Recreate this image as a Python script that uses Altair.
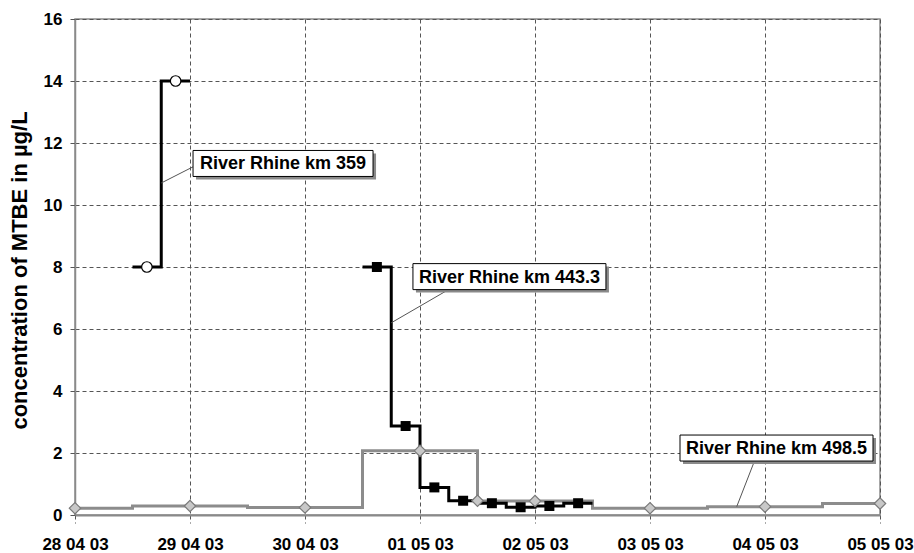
import altair as alt
import pandas as pd

# River Rhine km 359: 6-hour composite samples (centre time, µg/L)
km359_time = ["2003-04-28T15:00", "2003-04-28T21:00"]
km359_value = [8.0, 14.0]

# River Rhine km 443.3: 6-hour composite samples
km443_time = ["2003-04-30T15:00", "2003-04-30T21:00", "2003-05-01T03:00", "2003-05-01T09:00",
              "2003-05-01T15:00", "2003-05-01T21:00", "2003-05-02T03:00", "2003-05-02T09:00"]
km443_value = [8.0, 2.87, 0.89, 0.46, 0.38, 0.25, 0.29, 0.38]

# River Rhine km 498.5: 24-hour composite samples
km498_time = ["2003-04-28T00:00", "2003-04-29T00:00", "2003-04-30T00:00", "2003-05-01T00:00",
              "2003-05-02T00:00", "2003-05-03T00:00", "2003-05-04T00:00", "2003-05-05T00:00"]
km498_value = [0.22, 0.29, 0.24, 2.07, 0.45, 0.22, 0.27, 0.37]
# additional single sample at km 498.5
km498_extra_time = ["2003-05-01T12:00"]
km498_extra_value = [0.46]

# callout boxes: text, centre (time, value), box width in px
label_text = ["River Rhine km 359", "River Rhine km 443.3", "River Rhine km 498.5"]
label_time = ["2003-04-29T19:25", "2003-05-01T18:40", "2003-05-04T02:24"]
label_value = [11.34, 7.69, 2.16]
label_width = [180, 193, 193]
# leader lines from box to curve
leader_from_time = ["2003-04-29T00:37", "2003-05-01T05:50", "2003-05-03T21:42"]
leader_from_value = [11.23, 7.26, 1.70]
leader_to_time = ["2003-04-28T18:00", "2003-04-30T18:00", "2003-05-03T18:06"]
leader_to_value = [10.71, 6.2, 0.27]

day_ticks = [(4, 28), (4, 29), (4, 30), (5, 1), (5, 2), (5, 3), (5, 4), (5, 5)]
y_ticks = [0, 2, 4, 6, 8, 10, 12, 14, 16]

FONT = "Liberation Sans"


def composite_steps(times, values, hours):
    """Each composite sample is drawn as a flat segment over its sampling period."""
    half = pd.Timedelta(hours=hours / 2)
    rows = []
    for i, (t, v) in enumerate(zip(times, values)):
        c = pd.Timestamp(t)
        rows.append({"t": c - half, "v": v, "o": 2 * i})
        rows.append({"t": c + half, "v": v, "o": 2 * i + 1})
    return pd.DataFrame(rows)


def points(times, values):
    return pd.DataFrame({"t": pd.to_datetime(times), "v": values})


x_scale = alt.Scale(domain=[alt.DateTime(year=2003, month=4, date=28),
                            alt.DateTime(year=2003, month=5, date=5)], nice=False)
y_scale = alt.Scale(domain=[0, 16], nice=False)

x_axis = alt.Axis(
    values=[alt.DateTime(year=2003, month=m, date=d) for m, d in day_ticks],
    format="%d %m %y", title=None,
    labelFont=FONT, labelFontSize=17, labelFontWeight="bold", labelColor="black",
    labelPadding=13, labelOverlap=False, labelFlush=False, labelBound=False,
    grid=True, gridDash=[4, 3], gridColor="#555555", gridWidth=1,
    tickSize=8, tickColor="#555555", tickDash=[4, 3], tickWidth=1,
    domainColor="#8a8a8a", domainWidth=2,
)
y_axis = alt.Axis(
    values=y_ticks, title="concentration of MTBE in µg/L",
    labelFont=FONT, labelFontSize=17, labelFontWeight="bold", labelColor="black",
    labelPadding=8,
    grid=True, gridDash=[4, 3], gridColor="#555555", gridWidth=1,
    tickSize=5, tickColor="#555555", tickWidth=1,
    domainColor="#8a8a8a", domainWidth=1.5,
    titleFont=FONT, titleFontSize=22, titleFontWeight="bold", titleColor="black",
    titleAngle=-90, titleX=-56, titleY=251, titleAlign="center", titleBaseline="middle",
)


def xenc(field="t"):
    return alt.X(f"{field}:T", scale=x_scale, axis=x_axis)


def yenc(field="v"):
    return alt.Y(f"{field}:Q", scale=y_scale, axis=y_axis)


km498_line = alt.Chart(composite_steps(km498_time, km498_value, 24)).mark_line(
    color="#8c8c8c", strokeWidth=3, clip=True, strokeJoin="miter"
).encode(x=xenc(), y=yenc(), order="o:Q")

km359_line = alt.Chart(composite_steps(km359_time, km359_value, 6)).mark_line(
    color="black", strokeWidth=3, strokeJoin="miter"
).encode(x=xenc(), y=yenc(), order="o:Q")

km443_line = alt.Chart(composite_steps(km443_time, km443_value, 6)).mark_line(
    color="black", strokeWidth=3, strokeJoin="miter"
).encode(x=xenc(), y=yenc(), order="o:Q")

km359_pts = alt.Chart(points(km359_time, km359_value)).mark_point(
    shape="circle", size=110, filled=True, fill="white", stroke="black", strokeWidth=1.2, opacity=1
).encode(x=xenc(), y=yenc())

km443_pts = alt.Chart(points(km443_time, km443_value)).mark_point(
    shape="square", size=100, filled=True, color="black", opacity=1
).encode(x=xenc(), y=yenc())

km498_pts = alt.Chart(points(km498_time + km498_extra_time, km498_value + km498_extra_value)).mark_point(
    shape="diamond", size=130, filled=True, fill="#c8c8c8", stroke="#7a7a7a", strokeWidth=1.2, opacity=1
).encode(x=xenc(), y=yenc())

leaders = alt.Chart(pd.DataFrame({
    "t": pd.to_datetime(leader_from_time), "v": leader_from_value,
    "t2": pd.to_datetime(leader_to_time), "v2": leader_to_value,
})).mark_rule(color="#555555", strokeWidth=1).encode(
    x=xenc(), y=yenc(), x2="t2:T", y2="v2:Q"
)

layers = [km498_line, km359_line, km443_line, km359_pts, km443_pts, km498_pts, leaders]

# callout boxes with drop shadow
for text, t, v, w in zip(label_text, label_time, label_value, label_width):
    df = pd.DataFrame({"t": [pd.Timestamp(t)], "v": [v], "label": [text]})
    base = alt.Chart(df)
    shadow = base.mark_rect(
        color="#8a8a8a", xOffset=-w / 2 + 3, x2Offset=w / 2 + 3, yOffset=-13 + 3, y2Offset=13 + 3
    ).encode(x=xenc(), x2="t:T", y=yenc(), y2="v:Q")
    box = base.mark_rect(
        fill="white", stroke="black", strokeWidth=1,
        xOffset=-w / 2, x2Offset=w / 2, yOffset=-13, y2Offset=13
    ).encode(x=xenc(), x2="t:T", y=yenc(), y2="v:Q")
    label = base.mark_text(
        font=FONT, fontSize=18, fontWeight="bold", color="black", baseline="middle", align="center", dy=1
    ).encode(x=xenc(), y=yenc(), text="label:N")
    layers += [shadow, box, label]

chart = alt.layer(*layers).properties(
    width=805, height=496,
    padding={"left": 75, "top": 19, "right": 34, "bottom": 38},
    autosize=alt.AutoSizeParams(type="none"),
    background="white",
).configure_view(stroke="#8a8a8a", strokeWidth=1.5)

chart.save("out.html", embed_options={"renderer": "svg", "actions": False})
